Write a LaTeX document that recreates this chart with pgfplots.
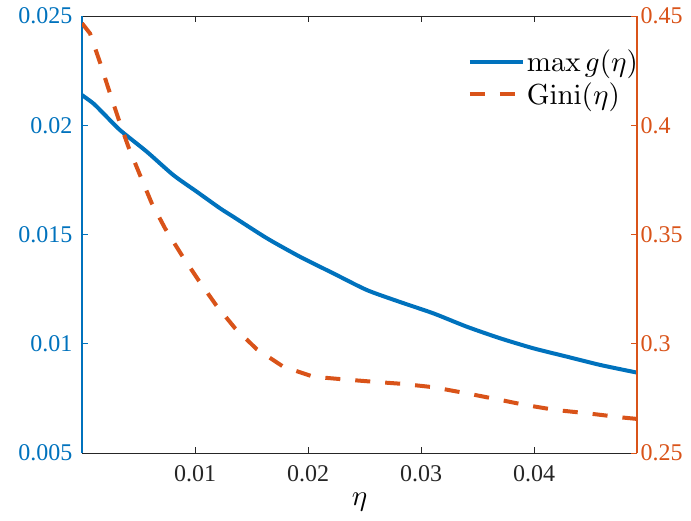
\documentclass[border=0pt]{standalone}
\usepackage[no-math]{fontspec}
\setmainfont{Liberation Serif}
\DeclareFontShape{OML}{cmm}{m}{it}{<-> cmmi10}{}
\DeclareFontShape{OT1}{cmr}{m}{n}{<-> cmr10}{}
\usepackage{pgfplots}
\pgfplotsset{compat=1.18}
\definecolor{mblue}{RGB}{0,114,189}
\definecolor{morange}{RGB}{217,83,25}
\definecolor{axgray}{RGB}{38,38,38}
\begin{document}
\begin{tikzpicture}
\pgfplotsset{
  common/.style={
    scale only axis, width=555pt, height=437pt,
    xmin=0, xmax=0.0491,
    scaled ticks=false,
    tick align=inside, major tick length=6pt,
    ticklabel style={font=\fontsize{24}{28}\selectfont},
    legend image code/.code={\draw[##1] (0pt,0pt) -- (53pt,0pt);},
  }
}
\begin{axis}[common,
  separate axis lines,
  x axis line style={color=axgray, line width=0.9pt},
  y axis line style={color=mblue, line width=1.1pt},
  ymin=0.005, ymax=0.025,
  xtick={0.01,0.02,0.03,0.04},
  xticklabels={0.01,0.02,0.03,0.04},
  xtick pos=both,
  ytick={0.005,0.01,0.015,0.02,0.025},
  yticklabels={0.005,0.01,0.015,0.02,0.025},
  ytick pos=left,
  x tick style={color=axgray, line width=0.8pt},
  y tick style={color=mblue, line width=0.8pt},
  x tick label style={text=axgray, yshift=-9pt},
  y tick label style={text=mblue, xshift=-6pt},
  xlabel={$\eta$},
  xlabel style={font=\fontsize{29}{33}\selectfont, yshift=-4pt},
]
\addplot[mblue, line width=4pt, line join=round, smooth, tension=0.4] coordinates {
(0,0.02138) (0.00100,0.02100) (0.00188,0.02055) (0.00336,0.01978)
(0.00573,0.01879) (0.00808,0.01772) (0.01015,0.01696) (0.01221,0.01620)
(0.01339,0.01581) (0.01635,0.01483) (0.01929,0.01398) (0.02224,0.01322)
(0.02519,0.01246) (0.02814,0.01191) (0.03109,0.01139) (0.03404,0.01078)
(0.03699,0.01025) (0.03994,0.00979) (0.04289,0.00941) (0.04584,0.00903)
(0.04909,0.00868)
};
\end{axis}
\begin{axis}[common,
  axis x line=none,
  axis y line*=right,
  y axis line style={color=morange, line width=1.1pt},
  ymin=0.25, ymax=0.45,
  ytick={0.25,0.3,0.35,0.4,0.45},
  yticklabels={0.25,0.3,0.35,0.4,0.45},
  y tick style={color=morange, line width=0.8pt},
  y tick label style={text=morange},
  legend style={draw=none, fill=none, font=\fontsize{29}{33}\selectfont,
    at={(1,1)}, anchor=north east, yshift=-30pt, xshift=6pt, row sep=5pt},
  legend cell align=left,
]
\addlegendimage{mblue, line width=4pt}
\addlegendentry{$\max g(\eta)$}
\addplot[morange, line width=4pt, dash pattern=on 15pt off 15pt] coordinates {
(0,0.4467) (0.00071,0.4420) (0.00159,0.4288) (0.00233,0.4169)
(0.00321,0.4032) (0.00410,0.3902) (0.00513,0.3772) (0.00617,0.3643)
(0.00735,0.3528) (0.00882,0.3406) (0.01029,0.3292) (0.01186,0.3177)
(0.01354,0.3071) (0.01546,0.2975) (0.01781,0.2895) (0.02047,0.2849)
(0.02312,0.2837) (0.02578,0.2826) (0.02843,0.2816) (0.03109,0.2801)
(0.03404,0.2773) (0.03670,0.2746) (0.03920,0.2720) (0.04186,0.2697)
(0.04466,0.2682) (0.04790,0.2662) (0.04909,0.2656)
};
\addlegendentry{$\mathrm{Gini}(\eta)$}
\end{axis}
\path (-82pt,-68pt) rectangle (609pt,453pt);
\end{tikzpicture}
\end{document}
